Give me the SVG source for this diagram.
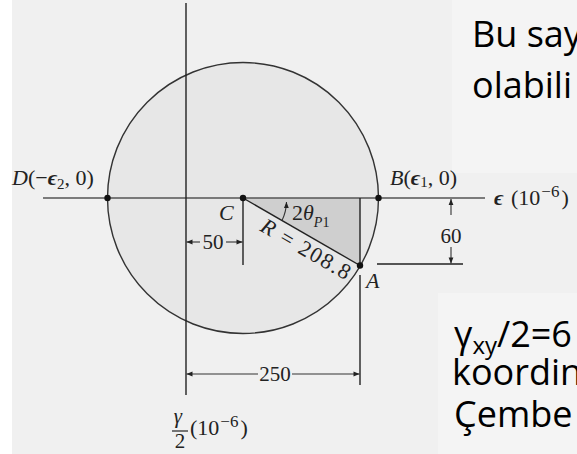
<svg xmlns="http://www.w3.org/2000/svg" width="577" height="454" viewBox="0 0 577 454">
<style>
.lbl{font-family:"Liberation Serif","Times New Roman",serif;font-size:21px;fill:#222}
.big{font-size:22px}
.it{font-style:italic}
.sl{font-family:"Open Sans","Noto Sans",sans-serif;font-size:36px;fill:#000}
.ax{stroke:#555;stroke-width:1.6;fill:none}
.ln{stroke:#222;stroke-width:1.4;fill:none}
.dim{stroke:#333;stroke-width:1.1;fill:none}
.pt{fill:#111}
</style>
<defs>
<marker id="ah" viewBox="0 0 10 10" refX="10" refY="5" markerWidth="7" markerHeight="6" markerUnits="userSpaceOnUse" orient="auto">
<path d="M0,1 L10,5 L0,9 Z" fill="#222"/>
</marker>
</defs>
<rect x="0" y="0" width="577" height="454" fill="#ffffff"/>
<rect x="12" y="0" width="565" height="454" fill="#f0f0f0"/>
<rect x="452" y="0" width="125" height="173" fill="#f4f4f4"/>
<rect x="438" y="293" width="139" height="161" fill="#f4f4f4"/>

<g id="circle">
<circle cx="243" cy="198" r="135.5" fill="#e7e7e7" stroke="#333" stroke-width="1.4"/>
<path d="M243,198 L360,198 L360,265.5 Z" fill="#cfcfcf"/>
</g>

<g id="connectors">
<line class="ax" x1="43" y1="198" x2="485" y2="198"/>
<line class="ln" x1="186" y1="3" x2="186" y2="395"/>
<line class="ln" x1="243" y1="198" x2="360" y2="265.5"/>
<line class="ln" x1="360" y1="198" x2="360" y2="265.5"/>
<line class="ln" x1="243" y1="198" x2="243" y2="265"/>
<line class="ln" x1="360" y1="275" x2="360" y2="385"/>
<line class="ln" x1="377" y1="264" x2="463" y2="264"/>
<path class="dim" d="M282,220.5 A45,45 0 0 0 286.5,202" marker-end="url(#ah)"/>
<line class="dim" x1="200" y1="242" x2="186.5" y2="242" marker-end="url(#ah)"/>
<line class="dim" x1="226" y1="242" x2="242.5" y2="242" marker-end="url(#ah)"/>
<line class="dim" x1="258" y1="374" x2="186.5" y2="374" marker-end="url(#ah)"/>
<line class="dim" x1="292" y1="374" x2="359.5" y2="374" marker-end="url(#ah)"/>
<line class="dim" x1="451" y1="215" x2="451" y2="199" marker-end="url(#ah)"/>
<line class="dim" x1="451" y1="247" x2="451" y2="263.5" marker-end="url(#ah)"/>
</g>

<g id="pointD"><circle class="pt" cx="107.5" cy="198" r="3.2"/>
<text class="lbl big" x="12" y="185"><tspan class="it">D</tspan>(−<tspan class="it" font-weight="bold">ϵ</tspan><tspan font-size="15" dy="4">2</tspan><tspan dy="-4">, 0)</tspan></text></g>
<g id="pointB"><circle class="pt" cx="378.5" cy="198" r="3.2"/>
<text class="lbl big" x="390" y="185"><tspan class="it">B</tspan>(<tspan class="it" font-weight="bold">ϵ</tspan><tspan font-size="15" dy="2">1</tspan><tspan dy="-2">, 0)</tspan></text></g>
<g id="pointC"><circle class="pt" cx="243" cy="198" r="3.2"/>
<text class="lbl big it" x="219" y="220">C</text></g>
<g id="pointA"><circle class="pt" cx="360" cy="265.5" r="3.2"/>
<text class="lbl big it" x="366" y="288">A</text></g>

<g id="labels">
<text class="lbl big" x="292" y="220">2<tspan class="it">θ</tspan><tspan class="it" font-size="14" dy="7">P</tspan><tspan font-size="14">1</tspan></text>
<text class="lbl big" transform="translate(243,198) rotate(30)" x="30" y="20" textLength="100" lengthAdjust="spacing"><tspan class="it">R</tspan> = 208.8</text>
<text class="lbl" x="213" y="249" text-anchor="middle">50</text>
<text class="lbl" x="275" y="381" text-anchor="middle">250</text>
<text class="lbl" x="451" y="243" text-anchor="middle">60</text>
<text class="lbl big it" x="494" y="205" font-weight="bold">ϵ</text>
<text class="lbl big" x="511" y="205">(10<tspan font-size="17" dx="1" dy="-8">−6</tspan><tspan dx="2" dy="8">)</tspan></text>
<text class="lbl it" x="178" y="423" text-anchor="middle" font-size="17">γ</text>
<line x1="172" y1="431" x2="188" y2="431" stroke="#222" stroke-width="1.2"/>
<text class="lbl" x="180" y="448" text-anchor="middle">2</text>
<text class="lbl big" x="190" y="435">(10<tspan font-size="17" dx="1" dy="-8">−6</tspan><tspan dx="2" dy="8">)</tspan></text>
</g>

<g id="notes">
<text class="sl" x="472" y="47">Bu say</text>
<text class="sl" x="472" y="98">olabili</text>
<text class="sl" x="454" y="347">γ<tspan font-size="24" dy="7">xy</tspan><tspan dy="-7">/2=6</tspan></text>
<text class="sl" x="452" y="385">koordin</text>
<text class="sl" x="454" y="427">Çembe</text>
</g>
</svg>
